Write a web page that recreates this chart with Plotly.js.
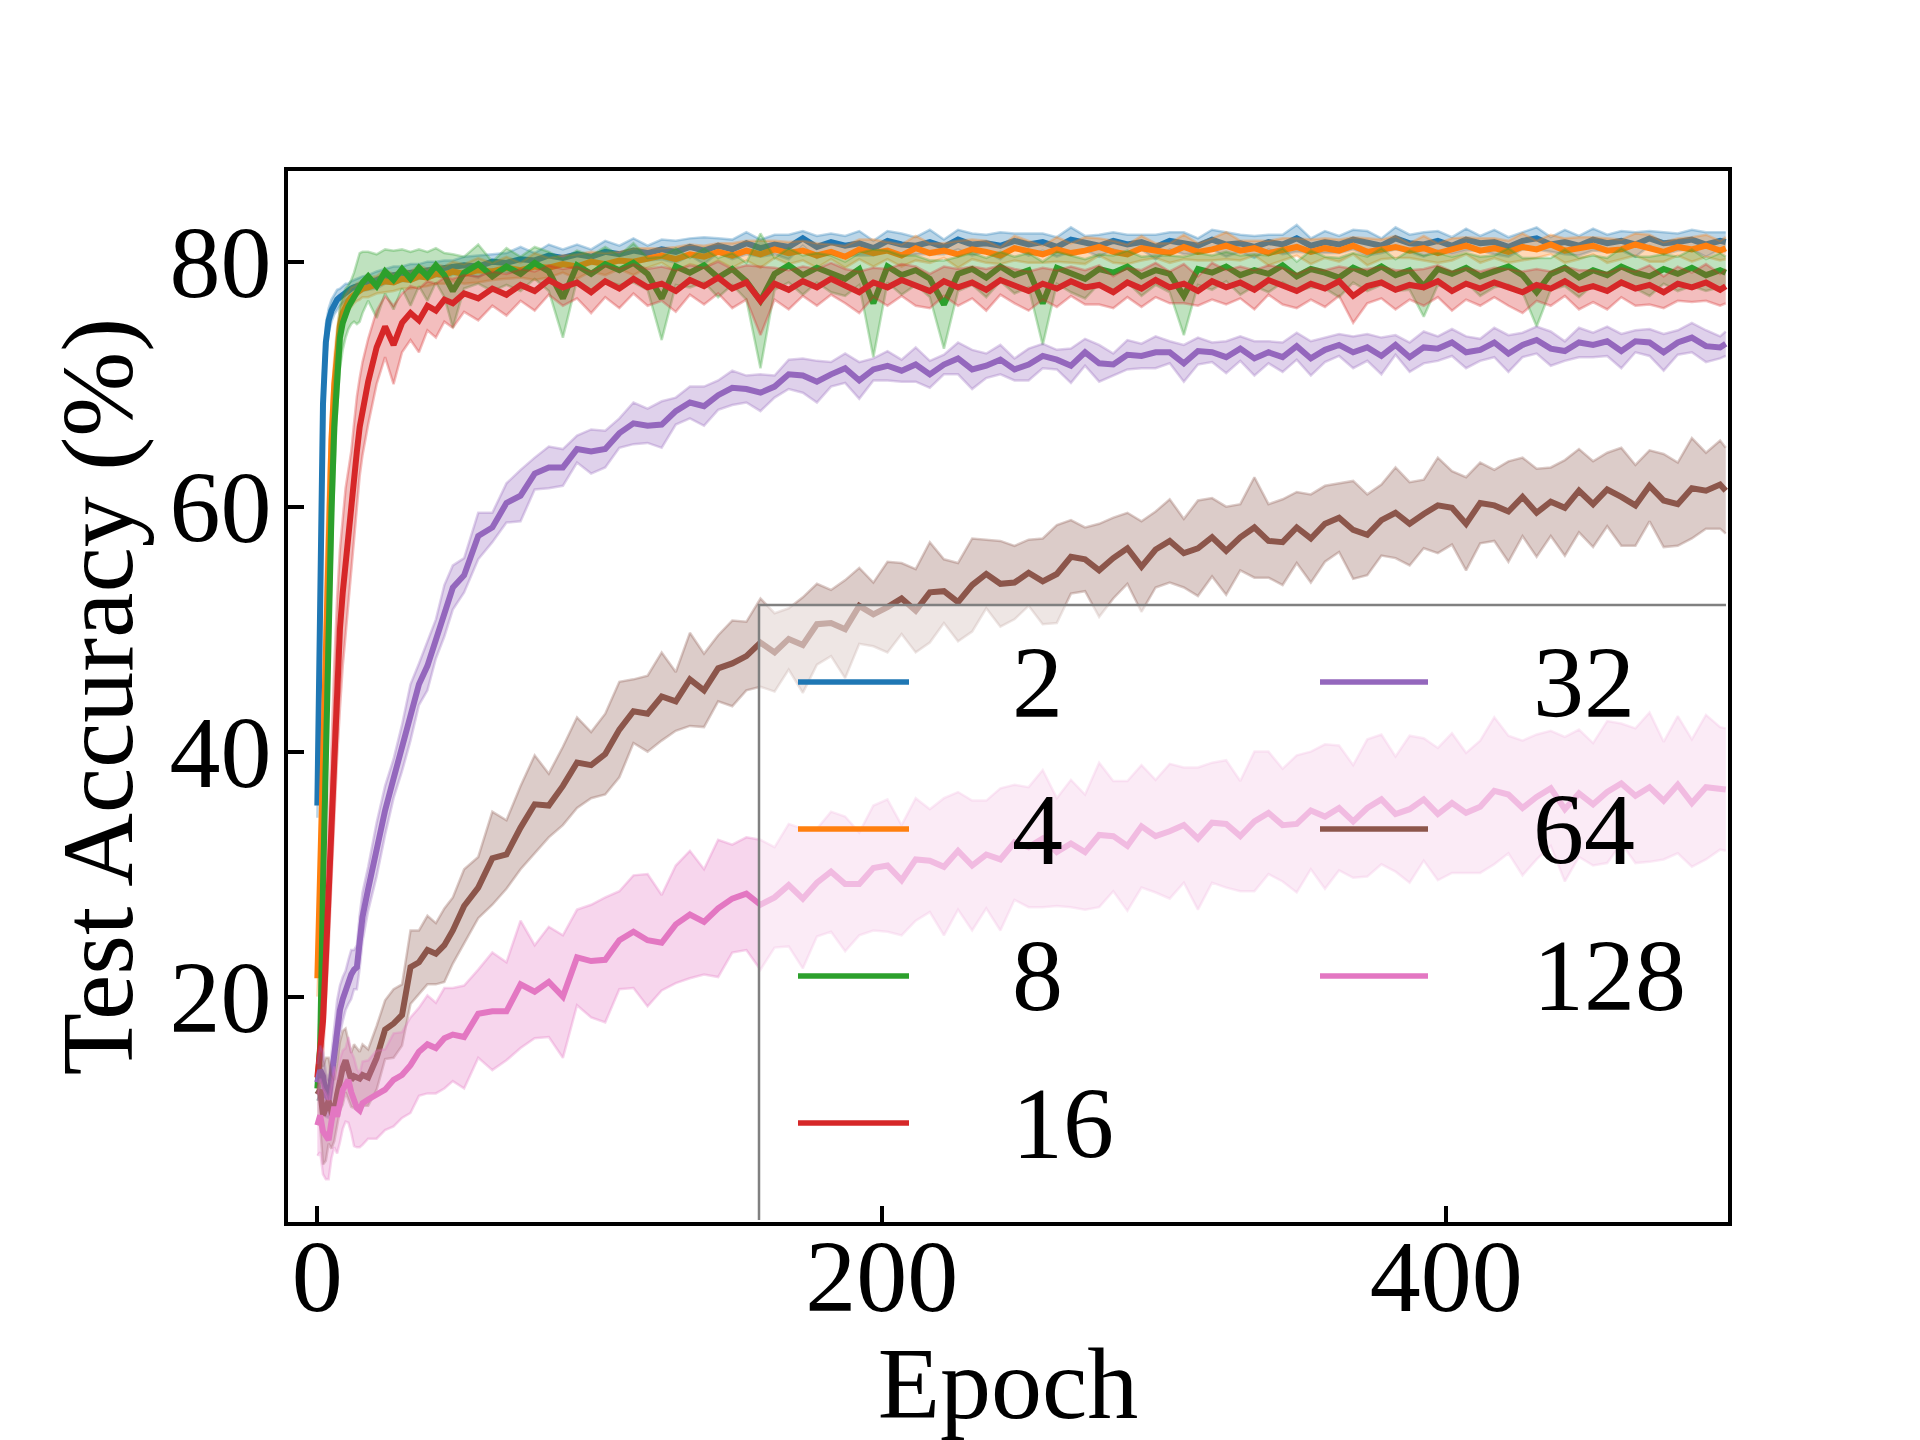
<!DOCTYPE html>
<html>
<head>
<meta charset="utf-8">
<script src="https://cdn.plot.ly/plotly-3.0.1.min.js"></script>
<style>body{margin:0;background:#fff}</style>
</head>
<body>
<div id="chart" style="width:1920px;height:1440px"></div>
<script>
const EPOCH = [0,1,2,3,4,5,6,7,8,9,10,11,12,13,14,15,16,
  18,21,24,27,30,33,36,39,42,45,48,
  52,57,62,67,72,77,82,87,92,97,
  102,107,112,117,122,127,132,137,142,147,
  152,157,162,167,172,177,182,187,192,197,
  202,207,212,217,222,227,232,237,242,247,
  252,257,262,267,272,277,282,287,292,297,
  302,307,312,317,322,327,332,337,342,347,
  352,357,362,367,372,377,382,387,392,397,
  402,407,412,417,422,427,432,437,442,447,
  452,457,462,467,472,477,482,487,492,497,
  499];

const LABELS = ['2', '4', '8', '16', '32', '64', '128'];
const COLORS = ['#1f77b4', '#ff7f0e', '#2ca02c', '#d62728', '#9467bd', '#8c564b', '#e377c2'];

// mean test accuracy and spread per setting
const MEAN_2 = [35.6,52,68.4,73.4,75.2,76.0,76.5,76.9,77.1,77.3,77.5,77.6,77.8,77.9,78.0,78.1,78.2,
  78.3,78.5,78.8,78.9,79.0,79.1,79.2,79.3,79.4,79.4,79.5,
  79.7,79.6,80.0,79.9,80.2,80.1,80.5,80.3,80.6,80.4,
  80.8,80.6,80.9,80.7,81.0,80.8,81.2,80.9,81.3,81.0,
  81.5,81.1,81.4,81.2,81.9,81.2,81.6,81.3,81.5,81.1,
  81.7,81.4,81.3,81.6,81.2,81.8,81.4,81.5,81.3,81.7,
  81.4,81.6,81.2,81.8,81.5,81.3,81.7,81.4,81.6,81.2,
  81.7,81.5,81.3,81.8,81.4,81.5,81.2,81.6,81.4,81.9,
  81.3,81.6,81.4,81.8,81.5,81.3,81.9,81.5,81.4,81.7,
  81.3,81.8,81.5,81.6,81.2,81.7,81.9,81.4,81.6,81.3,
  81.8,81.5,81.7,81.4,81.9,81.5,81.6,81.8,81.4,81.7,
  81.6];
const STD_2 = [1.0,4.0,2.5,1.5,1.0,0.9,0.8,0.8,0.7,0.7,0.7,0.6,0.6,0.6,0.6,0.6,0.6,
  0.6,0.7,0.6,0.7,0.6,0.7,0.6,0.7,0.6,0.7,0.6,
  0.7,0.9,0.6,0.8,1.0,0.6,0.9,0.7,0.8,0.6,
  0.9,0.7,1.0,0.6,0.8,0.9,0.7,1.1,0.6,0.8,
  0.9,0.7,0.8,1.0,0.6,0.9,0.7,0.8,1.0,0.6,
  0.8,0.9,0.7,1.0,0.6,0.8,0.9,0.7,1.1,0.6,
  0.9,0.7,0.8,1.0,0.6,0.9,0.7,0.8,0.6,1.0,
  0.7,0.9,0.6,0.8,1.0,0.7,0.9,0.6,0.8,1.1,
  0.6,0.9,0.7,0.8,1.0,0.6,0.9,0.7,1.0,0.8,
  0.7,0.9,0.6,1.0,0.8,0.7,0.9,0.6,1.0,0.8,
  0.9,0.7,0.8,1.0,0.6,0.9,0.7,0.8,1.0,0.7,
  0.8];

const MEAN_4 = [21.5,30,41,51,59,65.5,70,73,74.8,75.8,76.4,76.8,77.1,77.3,77.5,77.6,77.8,
  77.9,78.1,78.4,78.3,78.6,78.5,78.8,78.7,79.0,78.9,79.2,
  79.0,79.3,79.2,79.5,79.3,79.6,79.5,79.8,79.6,80.0,
  79.8,80.1,80.0,80.3,80.5,80.2,80.6,80.4,80.8,80.5,
  80.9,80.6,81.0,80.7,80.9,80.5,80.8,80.4,81.0,80.7,
  80.9,80.5,81.1,80.7,80.9,80.6,81.0,80.8,80.5,81.1,
  80.8,80.6,81.0,80.7,80.9,81.2,80.8,80.6,81.1,80.9,
  80.7,81.2,80.8,81.0,81.3,80.9,81.1,80.7,81.0,81.2,
  80.8,81.1,80.9,81.3,80.8,81.0,81.2,80.9,81.1,80.7,
  81.0,81.3,80.9,81.1,80.8,81.2,81.0,81.4,80.9,81.1,
  81.3,80.9,81.0,81.4,81.1,80.8,81.2,81.0,81.3,80.9,
  81.1];
const STD_4 = [1.5,4.0,5.0,4.5,4.0,3.0,2.2,1.6,1.2,1.0,0.9,0.8,0.8,0.7,0.7,0.7,0.7,
  0.8,0.7,0.9,0.7,0.8,0.7,0.9,0.7,0.8,0.7,0.8,
  0.8,1.0,0.7,0.9,0.6,1.1,0.8,0.7,1.0,0.8,
  0.9,0.7,1.1,0.8,0.6,1.0,0.8,0.9,0.7,1.0,
  0.8,1.1,0.7,0.9,0.8,1.0,0.6,0.9,0.8,1.1,
  0.7,0.9,1.0,0.8,0.6,1.1,0.8,0.9,0.7,1.0,
  0.9,0.7,1.0,0.8,1.1,0.7,0.9,0.8,1.0,0.6,
  0.8,1.0,0.7,0.9,1.1,0.8,0.6,1.0,0.9,0.7,
  1.0,0.8,0.9,0.7,1.1,0.8,0.9,0.6,1.0,0.8,
  0.9,0.7,1.0,0.8,0.9,1.1,0.7,0.8,1.0,0.9,
  0.7,1.0,0.8,0.9,1.1,0.8,0.7,1.0,0.9,0.8,
  0.9];

const MEAN_8 = [12.5,16,29,41,51.5,59.5,66.5,71,73.8,75,75.8,76.3,76.7,77.1,77.4,77.9,78.3,
  78.8,78.0,79.2,78.5,79.4,78.6,79.5,78.8,79.7,78.9,77.6,
  79.1,79.8,78.8,79.6,79.0,79.9,79.2,77.0,79.7,79.0,
  79.8,79.3,79.9,79.0,77.0,79.6,79.1,79.7,78.7,79.4,
  78.4,76.8,79.0,79.7,78.9,79.5,79.0,78.6,79.4,76.6,
  79.6,78.9,79.3,78.6,76.5,79.0,79.4,78.7,79.6,78.9,
  79.3,76.6,79.5,79.0,78.6,79.4,79.1,79.6,78.8,79.3,
  79.0,77.2,79.4,79.1,79.6,78.9,79.3,79.0,79.7,78.8,
  79.4,79.1,78.7,79.5,79.0,79.6,78.9,79.3,78.0,79.4,
  79.0,79.5,78.8,79.2,79.6,78.9,77.5,79.0,79.5,78.7,
  79.3,78.9,79.6,79.1,78.8,79.4,79.0,79.5,78.9,79.3,
  79.1];
const STD_8 = [1.0,4.0,6.0,6.0,5.5,5.0,4.0,3.0,2.5,2.2,2.0,1.8,1.8,2.0,2.5,2.8,2.5,
  2.0,2.6,1.8,2.4,1.6,2.2,1.5,2.0,1.4,1.8,3.0,
  1.3,1.6,1.2,1.5,1.4,1.3,1.6,3.2,1.2,1.5,
  1.4,1.2,1.6,1.3,3.4,1.5,1.2,1.4,1.6,1.3,
  1.5,5.5,1.3,1.4,1.6,1.2,1.5,1.4,1.3,4.4,
  1.3,1.6,1.2,1.5,3.6,1.4,1.3,1.6,1.2,1.5,
  1.4,3.4,1.3,1.5,1.6,1.2,1.4,1.3,1.6,1.2,
  1.5,3.2,1.3,1.4,1.2,1.6,1.3,1.5,1.4,1.2,
  1.5,1.3,1.6,1.2,1.4,1.5,1.3,1.6,2.5,1.3,
  1.4,1.2,1.6,1.3,1.5,1.4,2.8,1.3,1.5,1.6,
  1.2,1.4,1.5,1.3,1.6,1.2,1.4,1.5,1.3,1.4,
  1.3];

const MEAN_16 = [13.4,15.5,18,23,29,35,41,46,50,53,55.5,57.5,59.5,62,64.5,66.5,68,
  70.2,73,74.7,73.2,75.0,75.8,75.2,76.4,76.0,76.9,76.6,
  77.4,77.0,77.8,77.3,78.1,77.6,78.5,77.9,78.3,77.5,
  78.4,77.8,78.6,77.9,78.2,77.6,78.5,78.0,78.7,77.8,
  78.3,76.8,78.2,77.7,78.4,77.9,78.6,78.0,77.5,78.3,
  77.9,78.5,78.0,77.6,78.4,77.9,78.3,77.7,78.5,78.0,
  77.6,78.2,77.8,78.4,77.9,78.1,77.5,78.3,77.8,78.5,
  77.9,78.2,77.6,78.4,77.9,78.3,77.7,78.5,78.0,77.6,
  78.2,77.8,78.4,77.2,78.0,78.3,77.7,78.1,77.9,78.4,
  77.6,78.2,77.8,78.3,77.9,77.5,78.1,77.8,78.4,77.7,
  78.0,77.6,78.3,77.8,78.1,77.5,78.2,77.9,78.3,77.7,
  78.0];
const STD_16 = [1.0,2.0,3.0,4.0,5.0,5.5,6.0,6.5,6.5,6.0,6.0,5.5,5.0,4.8,4.5,4.0,3.8,
  3.5,3.0,2.5,3.2,2.4,2.2,2.6,2.0,2.2,1.8,2.0,
  1.5,1.8,1.4,1.7,1.3,1.6,1.2,1.5,1.3,1.7,
  1.3,1.6,1.2,1.5,1.4,1.7,1.2,1.5,1.3,1.6,
  1.4,2.8,1.3,1.6,1.2,1.5,1.3,1.4,1.7,1.2,
  1.5,1.3,1.6,1.4,1.2,1.5,1.3,1.7,1.2,1.4,
  1.6,1.3,1.5,1.2,1.4,1.6,1.3,1.2,1.5,1.4,
  1.3,1.6,1.2,1.5,1.4,1.3,1.6,1.2,1.5,1.4,
  1.3,1.5,1.2,2.2,1.4,1.3,1.6,1.2,1.5,1.3,
  1.6,1.3,1.4,1.2,1.5,1.7,1.3,1.4,1.2,1.6,
  1.3,1.5,1.2,1.4,1.6,1.3,1.4,1.2,1.5,1.3,
  1.4];

const MEAN_32 = [13,14,13.5,12,11.6,13.5,15.5,17.5,18.9,19.8,20.5,21.2,21.8,22.2,22.4,24.5,26.5,
  28.8,32.0,35.2,37.8,40.3,43.2,45.5,47.0,49.2,51.5,53.4,
  54.4,57.6,58.3,60.3,60.9,62.7,63.2,63.2,64.7,64.5,
  64.7,66.0,66.8,66.6,66.7,67.8,68.5,68.2,69.1,69.7,
  69.6,69.3,69.8,70.8,70.7,70.2,70.8,71.3,70.3,71.2,
  71.5,71.1,71.6,70.8,71.6,72.1,71.2,71.5,72.0,71.2,
  71.6,72.3,72.0,71.5,72.6,71.7,71.6,72.4,72.3,72.6,
  72.6,71.7,72.7,72.6,72.2,72.9,72.1,72.6,72.2,73.1,
  72.1,72.8,73.2,72.6,73.0,72.3,73.2,72.2,73.0,72.9,
  73.4,72.6,72.8,73.4,72.5,73.2,73.6,72.9,72.7,73.4,
  73.2,73.5,72.7,73.5,73.4,72.6,73.4,73.8,73.1,73.0,
  73.3];
const STD_32 = [1.5,2.0,2.0,1.8,1.5,1.6,2.0,2.2,2.0,1.8,1.6,1.8,2.0,1.6,1.8,2.2,2.0,
  1.8,2.2,2.0,1.6,1.9,2.3,1.7,2.0,1.6,2.1,1.8,
  1.4,1.9,1.2,1.6,2.1,1.3,1.7,1.5,1.1,1.8,
  1.5,1.2,1.7,1.4,1.9,1.1,1.3,1.6,1.2,1.4,
  1.1,1.5,0.9,1.2,1.4,1.7,1.0,1.2,1.5,0.9,
  1.2,0.9,1.4,1.1,0.8,1.3,1.6,1.0,1.2,0.9,
  1.3,1.0,0.8,1.4,1.1,1.5,0.9,1.2,1.0,1.3,
  0.9,1.5,1.1,0.8,1.3,1.0,1.4,0.9,1.2,1.1,
  1.4,1.0,0.9,1.3,1.1,1.5,0.8,1.2,1.3,1.0,
  1.1,1.3,0.9,1.2,1.5,1.0,1.1,1.4,0.8,1.2,
  1.0,1.2,1.4,0.9,1.1,1.5,1.0,1.2,1.3,0.9,
  1.0];

const MEAN_64 = [12.0,12.4,10.3,10.8,11.5,10.6,10.7,12.0,13.5,14.2,14.8,14.0,13.2,13.5,13.4,13.3,13.6,
  13.4,15.0,17.3,17.8,18.5,22.4,22.8,23.8,23.5,24.2,25.4,
  27.4,28.9,31.3,31.6,33.8,35.7,35.6,37.2,39.1,38.9,
  39.8,41.8,43.3,43.1,44.5,44.1,45.9,45.0,46.8,47.2,
  47.8,48.9,48.1,49.2,48.7,50.4,50.5,50.0,51.9,51.2,
  51.8,52.5,51.5,53.0,53.1,52.2,53.6,54.5,53.7,53.8,
  54.6,53.9,54.5,55.9,55.7,54.8,55.8,56.6,55.1,56.5,
  57.2,56.2,56.6,57.5,56.4,57.5,58.3,57.2,57.1,58.3,
  57.4,58.6,59.1,58.1,57.7,58.9,59.5,58.6,59.4,60.1,
  59.9,58.6,60.3,60.1,59.6,60.8,59.5,60.4,59.9,61.3,
  60.2,61.4,60.8,60.1,61.7,60.5,60.2,61.5,61.3,61.8,
  61.3];
const STD_64 = [2.0,3.0,4.0,4.2,3.5,3.0,2.5,2.5,2.8,3.0,2.6,2.4,2.2,2.6,2.4,2.2,2.5,
  2.3,2.6,2.4,2.8,2.5,3.0,2.6,2.8,2.5,3.0,2.7,
  3.0,2.5,3.8,2.8,3.4,4.0,2.6,3.2,3.7,2.7,
  3.3,3.9,2.6,3.1,3.6,2.4,3.8,3.0,2.7,3.5,
  2.8,3.6,3.2,2.5,3.9,3.3,2.7,4.0,3.1,2.6,
  3.7,2.9,3.4,4.1,2.6,3.2,3.8,2.8,3.5,3.0,
  2.7,3.5,4.0,3.0,2.6,3.8,3.3,2.9,3.7,3.1,
  3.4,2.8,3.9,3.2,3.6,2.7,4.1,3.0,3.5,2.9,
  3.6,3.1,2.8,4.0,3.3,2.9,3.7,3.4,2.8,3.9,
  3.0,3.8,3.3,2.9,4.1,3.2,3.6,2.8,3.9,3.4,
  3.5,3.0,4.0,3.3,2.9,3.8,3.4,4.1,3.1,3.6,
  3.5];

const MEAN_128 = [9.5,10.3,9.0,8.6,8.3,9.8,11.0,10.2,11.5,12.4,12.8,13.2,12.2,11.4,10.9,10.7,11.3,
  11.6,12.0,12.4,13.2,13.6,14.4,15.5,16.1,15.8,16.6,16.9,
  16.7,18.6,18.8,18.8,21.0,20.4,21.2,20.0,23.2,22.9,
  23.0,24.6,25.3,24.6,24.4,25.9,26.7,26.1,27.2,28.0,
  28.4,27.5,28.1,29.1,28.0,29.3,30.2,29.2,29.2,30.5,
  30.7,29.5,31.2,31.1,30.6,31.9,30.7,31.6,31.2,32.6,
  32.2,32.9,31.8,32.5,31.8,33.2,33.1,32.3,33.9,33.1,
  33.5,34.0,32.9,34.2,34.1,33.1,34.3,35.0,34.0,34.1,
  35.2,34.7,35.4,34.3,35.4,36.1,34.9,35.3,36.1,34.9,
  35.8,35.0,35.5,36.8,36.5,35.4,36.3,37.0,35.3,36.6,
  35.7,36.7,37.4,36.4,37.1,36.0,37.3,35.8,37.1,37.0,
  36.9];
const STD_128 = [2.5,3.0,3.5,3.5,3.2,3.0,3.3,3.0,3.4,3.2,3.0,3.5,3.3,3.6,3.2,3.0,3.4,
  3.2,3.6,3.3,3.8,3.5,3.9,3.6,4.0,3.7,4.1,3.8,
  4.2,3.6,4.8,4.0,5.2,3.8,4.5,5.0,3.9,4.6,
  5.1,4.0,4.6,5.4,3.9,4.8,5.2,4.3,5.6,4.4,
  4.6,5.3,4.1,5.0,5.7,4.4,4.9,5.5,4.2,5.1,
  5.4,4.5,5.0,4.2,5.6,4.8,5.3,4.4,5.8,4.7,
  4.9,5.6,4.4,5.2,4.7,5.9,4.5,5.3,5.0,4.6,
  5.5,4.7,5.8,4.9,5.2,4.5,5.7,5.0,4.6,5.6,
  4.8,5.9,5.1,4.6,5.6,5.3,4.7,6.0,5.0,5.4,
  5.7,4.9,5.4,6.0,4.8,5.5,5.1,4.7,5.9,5.2,
  5.0,5.8,4.9,5.5,6.1,4.8,5.6,5.2,5.9,5.0,
  5.0];

const MEANS = [MEAN_2, MEAN_4, MEAN_8, MEAN_16, MEAN_32, MEAN_64, MEAN_128];
const STDS = [STD_2, STD_4, STD_8, STD_16, STD_32, STD_64, STD_128];

const FONT = 'Liberation Serif, Times New Roman, serif';

function rgba(hex, a) {
  const n = parseInt(hex.slice(1), 16);
  return `rgba(${(n >> 16) & 255},${(n >> 8) & 255},${n & 255},${a})`;
}

// band (mean +/- spread) first, then the mean line, series by series
const data = [];
LABELS.forEach((lab, i) => {
  const lo = MEANS[i].map((m, k) => m - STDS[i][k]);
  const hi = MEANS[i].map((m, k) => m + STDS[i][k]);
  data.push({x: EPOCH, y: lo, mode: 'lines', showlegend: false, hoverinfo: 'skip',
    line: {color: rgba(COLORS[i], 0.3), width: 2.5}});
  data.push({x: EPOCH, y: hi, mode: 'lines', showlegend: false, hoverinfo: 'skip',
    fill: 'tonexty', fillcolor: rgba(COLORS[i], 0.3),
    line: {color: rgba(COLORS[i], 0.3), width: 2.5}});
  data.push({x: EPOCH, y: MEANS[i], mode: 'lines', name: lab, showlegend: false,
    line: {color: COLORS[i], width: 6}});
});

// plot box in pixels, used to place the hand-made legend
const L = 288, R = 1728, T = 171, B = 1222;
const px = v => (v - L) / (R - L);
const py = v => (B - v) / (B - T);

const legTop = 605, legLeft = 759;
const rowY = [682, 829, 976, 1123];
const colLine = [[798, 909], [1320, 1428]];
const colText = [1010, 1531];

const shapes = [
  {type: 'rect', xref: 'paper', yref: 'paper', layer: 'above',
   x0: px(legLeft), x1: px(R - 2), y0: py(B - 20), y1: py(legTop),
   fillcolor: 'rgba(255,255,255,0.5)', line: {width: 0}},
  {type: 'path', xref: 'paper', yref: 'paper', layer: 'above',
   path: `M${px(legLeft)},${py(B - 2)} L${px(legLeft)},${py(legTop)} L${px(R - 2)},${py(legTop)}`,
   line: {color: '#808080', width: 2.5}}
];
const annotations = [];
LABELS.forEach((lab, i) => {
  const col = i < 4 ? 0 : 1;
  const row = i < 4 ? i : i - 4;
  shapes.push({type: 'line', xref: 'paper', yref: 'paper', layer: 'above',
    x0: px(colLine[col][0]), x1: px(colLine[col][1]), y0: py(rowY[row]), y1: py(rowY[row]),
    line: {color: COLORS[i], width: 5.5}});
  annotations.push({xref: 'paper', yref: 'paper', x: px(colText[col]), y: py(rowY[row]),
    xanchor: 'left', yanchor: 'middle', showarrow: false, text: lab,
    font: {family: FONT, size: 102, color: '#000'}});
});

const axisCommon = {
  showgrid: false, zeroline: false, showline: true, mirror: true,
  linecolor: '#000', linewidth: 4,
  ticks: 'inside', ticklen: 16, tickwidth: 4, tickcolor: '#000',
  tickfont: {family: FONT, size: 102, color: '#000'}
};

const layout = {
  width: 1920, height: 1440,
  paper_bgcolor: '#fff', plot_bgcolor: '#fff',
  margin: {l: L, r: 1920 - R, t: T, b: 1440 - B},
  showlegend: false,
  xaxis: Object.assign({}, axisCommon, {
    range: [-10.4, 499.8], tickvals: [0, 200, 400], ticklabelstandoff: -37,
    title: {text: 'Epoch', font: {family: FONT, size: 102, color: '#000'}, standoff: 57}
  }),
  yaxis: Object.assign({}, axisCommon, {
    range: [1.6, 87.4], tickvals: [20, 40, 60, 80], ticklabelstandoff: -8,
    title: {text: 'Test Accuracy (%)', font: {family: FONT, size: 102, color: '#000'}, standoff: 4}
  }),
  shapes: shapes,
  annotations: annotations
};

Plotly.newPlot('chart', data, layout, {displayModeBar: false, staticPlot: true});
</script>
</body>
</html>
